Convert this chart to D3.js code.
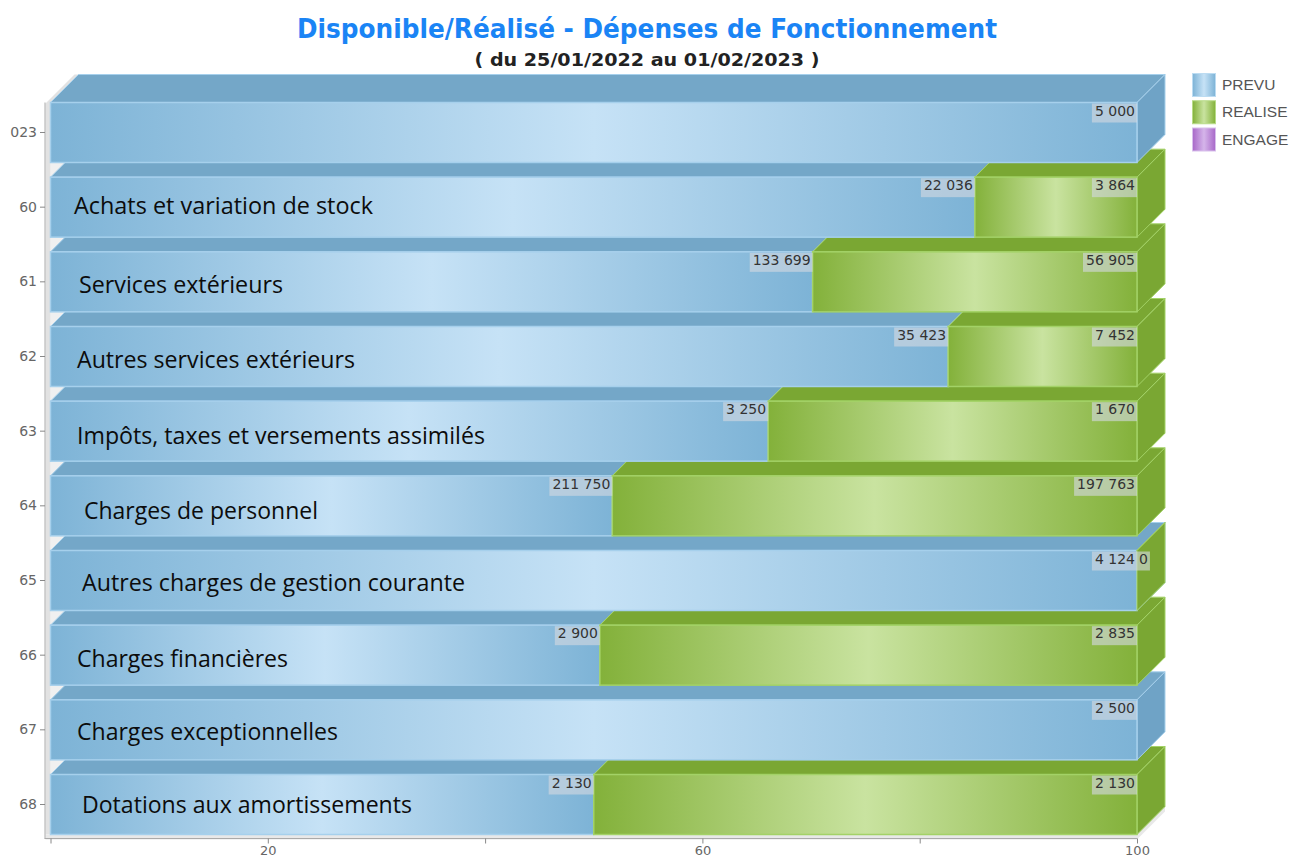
<!DOCTYPE html>
<html><head><meta charset="utf-8">
<script src="https://cdn.jsdelivr.net/npm/d3@7"></script>
<style>html,body{margin:0;padding:0;background:#fff;overflow:hidden}svg{display:block}</style>
</head><body><svg id="c" width="1291" height="858"></svg>
<script>
const categories = ["023","60","61","62","63","64","65","66","67","68"];
const prevu   = [5000,22036,133699,35423,3250,211750,4124,2900,2500,2130];
const realise = [null,3864,56905,7452,1670,197763,0,2835,null,2130];
const prevuLabels   = ["5 000","22 036","133 699","35 423","3 250","211 750","4 124","2 900","2 500","2 130"];
const realiseLabels = [null,"3 864","56 905","7 452","1 670","197 763","0","2 835",null,"2 130"];
const annotations = [null,"Achats et variation de stock","Services extérieurs","Autres services extérieurs","Impôts, taxes et versements assimilés","Charges de personnel","Autres charges de gestion courante","Charges financières","Charges exceptionnelles","Dotations aux amortissements"];
const annotationX = [0,74,79,77,77,84,82,77,77,82];
const annotationWidth = [0,299,204,278,408,234,383,211,261,330];
const annotationDy = [0,1,5,6,7,7,4,6,4,2];
const xTicks = [0,20,40,60,80,100];
const xTickLabels = ["","20","","60","","100"];
const legendNames = ["PREVU","REALISE","ENGAGE"];

const svg = d3.select("#c");
const dx = 28, dy = 28;
const x = d3.scaleLinear().domain([0,1]).range([50.5,1137]);
const xAxisScale = d3.scaleLinear().domain([0,100]).range([50.5,1137]);
const y = d3.scaleBand().domain(categories).range([102.5,834.5]).paddingInner(0.1965);
const bh = y.bandwidth();

const rows = categories.map((c,i)=>({cat:c,prevu:prevu[i],realise:realise[i]===null?0:realise[i],i}));
const stacked = d3.stack().keys(["prevu","realise"]).offset(d3.stackOffsetExpand)(rows);

const defs = svg.append("defs");
function grad(id,edge,mid){
  const g = defs.append("linearGradient").attr("id",id).attr("x1","0").attr("x2","1").attr("y1","0").attr("y2","0");
  g.append("stop").attr("offset","0").attr("stop-color",edge);
  g.append("stop").attr("offset","0.5").attr("stop-color",mid);
  g.append("stop").attr("offset","1").attr("stop-color",edge);
}
grad("gBlue","#7db3d6","#c6e2f6");
grad("gGreen","#83b13a","#c9e3a0");
grad("gPurple","#a868c8","#d5b5ea");

const styles = {
  prevu:{fill:"url(#gBlue)",top:"#74a7c8",side:"#6fa3c6",stroke:"#a6d0ec"},
  realise:{fill:"url(#gGreen)",top:"#7aa733",side:"#7aa733",stroke:"#a3d267"}
};

// walls
const x0 = x(0), x1 = x(1), yTop = 102.5, yBot = 834.5;
svg.append("polygon").attr("points",[[x0,yTop],[x0+dx,yTop-dy],[x0+dx,yBot-dy],[x0,yBot]].join(" ")).attr("fill","#f0f0f0");
svg.append("polygon").attr("points",[[x0,yBot],[x1,yBot],[x1+dx,yBot-dy],[x0+dx,yBot-dy]].join(" ")).attr("fill","#f0f0f0");
// 3D axis frame
svg.append("path").attr("d",`M${x0-5},${yTop+1}L${x0+dx-4},${yTop-dy}L${x0+dx},${yTop-dy}L${x0},${yTop}V${yBot}H${x0-5}Z`).attr("fill","#e2e2e2");
svg.append("path").attr("d",`M${x0-5},${yBot}H${x1}L${x1+dx},${yBot-dy}V${yBot-dy+5}L${x1},${yBot+5}H${x0-5}Z`).attr("fill","#e8e8e8");

// bars, drawn from the bottom row upward
const order = d3.range(categories.length).reverse();
const gBars = svg.append("g");
order.forEach(i=>{
  stacked.forEach(layer=>{
    if(layer.key==="realise" && realise[i]===null) return;
    const s = styles[layer.key];
    const a = x(layer[i][0]), b = x(layer[i][1]), t = y(categories[i]), h = bh;
    const g = gBars.append("g");
    g.append("polygon").attr("points",[[a,t],[a+dx,t-dy],[b+dx,t-dy],[b,t]].join(" "))
      .attr("fill",s.top).attr("stroke",s.stroke).attr("stroke-width",1);
    g.append("polygon").attr("points",[[b,t],[b+dx,t-dy],[b+dx,t-dy+h],[b,t+h]].join(" "))
      .attr("fill",s.side).attr("stroke",s.stroke).attr("stroke-width",1);
    if(b-a>0.01) g.append("rect").attr("x",a).attr("y",t).attr("width",b-a).attr("height",h)
      .attr("fill",s.fill).attr("stroke",s.stroke).attr("stroke-width",1.5);
  });
});

// axes
const yAxis = d3.axisLeft(y).tickSize(5).tickPadding(3);
const gy = svg.append("g").attr("transform",`translate(${x0-5.5},0)`).call(yAxis);
gy.select(".domain").attr("d",`M0,${yTop}V${yBot+4}`).attr("stroke","#aaa");
gy.selectAll(".tick line").attr("stroke","#888");
gy.selectAll("text").attr("font-family","DejaVu Sans").attr("font-size",14).attr("fill","#666");

const xAxis = d3.axisBottom(xAxisScale).tickValues(xTicks).tickFormat((d,i)=>xTickLabels[i]).tickSize(5).tickPadding(2);
const gx = svg.append("g").attr("transform",`translate(0,${yBot+4})`).call(xAxis);
gx.select(".domain").attr("d",`M${x0-6},0H${x1}`).attr("stroke","#aaa");
gx.selectAll(".tick line").attr("stroke","#888");
gx.selectAll("text").attr("font-family","DejaVu Sans").attr("font-size",13).attr("fill","#666");

// value labels
const gL = svg.append("g").attr("font-family","DejaVu Sans").attr("font-size",14).attr("fill","#333");
function valueLabel(txt,xr,t){
  const node = gL.append("text").attr("text-anchor","end").attr("x",xr-2).attr("y",t+13).text(txt);
  const w = node.node().getComputedTextLength()+5;
  gL.insert("rect","text").attr("x",xr-w).attr("y",t+1).attr("width",w).attr("height",19).attr("fill","#d4d8e0").attr("fill-opacity",0.62);
}
categories.forEach((c,i)=>{
  const t = y(c);
  valueLabel(prevuLabels[i],x(stacked[0][i][1]),t);
  if(realise[i]===0){
    const n = gL.append("text").attr("x",x1+2).attr("y",t+13).text(realiseLabels[i]);
    const w = n.node().getComputedTextLength()+4;
    gL.insert("rect","text").attr("x",x1).attr("y",t+1).attr("width",w).attr("height",19).attr("fill","#d4d8e0").attr("fill-opacity",0.62);
  } else if(realiseLabels[i]) valueLabel(realiseLabels[i],x(stacked[1][i][1]),t);
});

// overlaid row names
const gA = svg.append("g").attr("font-family","Open Sans").attr("font-size",23).attr("fill","#0c0c0c");
annotations.forEach((a,i)=>{
  if(!a) return;
  gA.append("text").attr("x",annotationX[i]).attr("y",y(categories[i])+bh/2+6+annotationDy[i])
    .attr("textLength",annotationWidth[i]).attr("lengthAdjust","spacingAndGlyphs").text(a);
});

// title
svg.append("text").attr("x",647).attr("y",38).attr("text-anchor","middle").attr("font-family","DejaVu Sans").attr("font-weight","bold").attr("font-size",26)
  .attr("fill","#1a84f5").attr("textLength",700).attr("lengthAdjust","spacingAndGlyphs").text("Disponible/Réalisé - Dépenses de Fonctionnement");
svg.append("text").attr("x",647).attr("y",66).attr("text-anchor","middle").attr("font-family","DejaVu Sans").attr("font-weight","bold").attr("font-size",17.5)
  .attr("fill","#222").attr("textLength",345).attr("lengthAdjust","spacingAndGlyphs").text("( du 25/01/2022 au 01/02/2023 )");

// legend
const lg = svg.append("g");
const legendColor = d3.scaleOrdinal().domain(legendNames).range(["url(#gBlue)","url(#gGreen)","url(#gPurple)"]);
const legendStroke = d3.scaleOrdinal().domain(legendNames).range(["#bcdcf2","#b8dc88","#d8c0ec"]);
const ly = d3.scalePoint().domain(legendNames).range([73.5,128]);
legendNames.forEach(n=>{
  lg.append("rect").attr("x",1192.5).attr("y",ly(n)).attr("width",23).attr("height",23).attr("fill",legendColor(n)).attr("stroke",legendStroke(n));
  lg.append("text").attr("x",1222).attr("y",ly(n)+16.5).attr("font-family","Liberation Sans").attr("font-size",15.5).attr("fill","#555").text(n);
});
</script></body></html>
